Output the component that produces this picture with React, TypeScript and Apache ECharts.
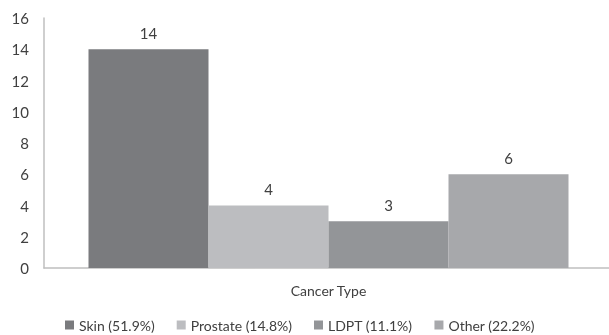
import React, { useEffect, useRef } from "react";
import * as echarts from "echarts";

const categories = ["Cancer Type"];
const seriesNames = ["Skin (51.9%)", "Prostate (14.8%)", "LDPT (11.1%)", "Other (22.2%)"];
const seriesValues = [14, 4, 3, 6];
const seriesColors = ["#7a7b7e", "#bcbdc0", "#939598", "#a7a8ab"];

export default function App() {
  const ref = useRef<HTMLDivElement>(null);
  useEffect(() => {
    const chart = echarts.init(ref.current!, null, { renderer: "svg" });
    const font = "Lato, 'Open Sans', sans-serif";
    chart.setOption({
      animation: false,
      textStyle: { fontFamily: font },
      grid: { left: 44, top: 18, right: 0, height: 250, containLabel: false },
      legend: {
        bottom: -2,
        left: 60,
        icon: "rect",
        itemWidth: 9,
        itemHeight: 9,
        itemGap: 22,
        textStyle: { fontSize: 14, color: "#404040", fontFamily: font },
        data: seriesNames,
      },
      xAxis: {
        type: "category",
        data: categories,
        name: categories[0],
        nameLocation: "middle",
        nameGap: 15,
        nameTextStyle: { fontSize: 14, color: "#404040", fontFamily: font },
        axisLine: { lineStyle: { color: "#bfbfbf", width: 1.5 } },
        axisTick: { show: false },
        axisLabel: { show: false },
      },
      yAxis: {
        type: "value",
        min: 0,
        max: 16,
        interval: 2,
        axisLine: { show: true, lineStyle: { color: "#bfbfbf", width: 1.5 } },
        axisTick: { show: false },
        splitLine: { show: false },
        axisLabel: { fontSize: 15, color: "#404040", margin: 15, fontFamily: font },
      },
      series: seriesNames.map((name, i) => ({
        name,
        type: "bar",
        data: [seriesValues[i]],
        barWidth: 120,
        barGap: "0%",
        itemStyle: { color: seriesColors[i] },
        label: {
          show: true,
          position: "top",
          distance: 9,
          fontSize: 15,
          color: "#404040",
          fontFamily: font,
        },
      })),
    });
    return () => chart.dispose();
  }, []);
  return (
    <div style={{ position: "fixed", left: 0, top: 0, width: 609, height: 335, overflow: "hidden" }}>
      <div ref={ref} style={{ width: 613, height: 335 }} />
    </div>
  );
}
